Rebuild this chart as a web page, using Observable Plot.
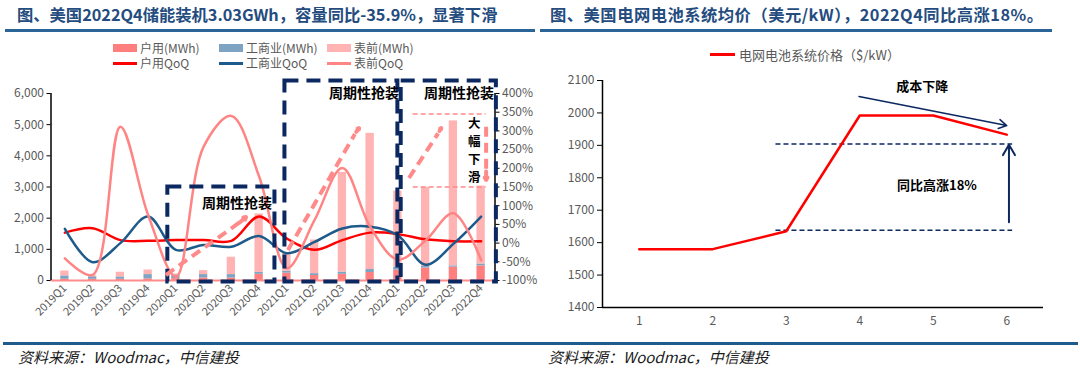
<!DOCTYPE html>
<html><head><meta charset="utf-8">
<script src="https://cdn.jsdelivr.net/npm/d3@7"></script>
<script src="https://cdn.jsdelivr.net/npm/@observablehq/plot@0.6"></script>
<style>
html,body{margin:0;padding:0;background:#fff;}
#root{position:relative;width:1080px;height:377px;overflow:hidden;font-family:"Noto Sans CJK SC","Noto Sans",sans-serif;}
.title{position:absolute;top:4px;font-size:16.3px;line-height:20px;font-weight:bold;color:#244c7e;white-space:nowrap;}
.rule{position:absolute;height:2.5px;background:#2b6497;}
.src{position:absolute;top:347px;font-size:15px;line-height:19px;font-style:italic;color:#1a1a1a;white-space:nowrap;}
.leg{position:absolute;font-size:12px;line-height:14px;color:#595959;white-space:nowrap;}
.sw{position:absolute;}
.chart{position:absolute;}
</style></head>
<body><div id="root">
<div class="title" style="left:17px">图、美国2022Q4储能装机3.03GWh，容量同比-35.9%，显著下滑</div>
<div class="title" style="left:550px;letter-spacing:0.5px">图、美国电网电池系统均价（美元/kW），2022Q4同比高涨18%。</div>
<div class="rule" style="left:5px;top:29px;width:530px"></div>
<div class="rule" style="left:540px;top:29px;width:512px"></div>
<div id="legL"></div>
<div id="legR"></div>
<div id="chartL" class="chart" style="left:0;top:75px"></div>
<div id="chartR" class="chart" style="left:540px;top:70px"></div>
<div class="rule" style="left:3px;top:342px;width:1075px;background:#1f5c8b"></div>
<div class="src" style="left:18px">资料来源：Woodmac，中信建投</div>
<div class="src" style="left:548px">资料来源：Woodmac，中信建投</div>
</div>
<script>
// ---------- Left chart data ----------
const catLabels = ["2019Q1","2019Q2","2019Q3","2019Q4","2020Q1","2020Q2","2020Q3","2020Q4",
                   "2021Q1","2021Q2","2021Q3","2021Q4","2022Q1","2022Q2","2022Q3","2022Q4"];
const resMWh = [40, 40, 40, 50, 60, 80, 80, 200, 235, 160, 200, 257, 330, 400, 430, 470];
const ciMWh  = [107, 80, 75, 140, 120, 110, 110, 60, 60, 60, 70, 95, 100, 50, 40, 60];
const fmMWh  = [158, 30, 150, 147, 30, 126, 557, 1875, 600, 1080, 3200, 4370, 2440, 2540, 4650, 2500];
const resQoQ = [28, 40, 8, 6, 8, 8, 6, 71, 12, -18, 8, 28, 24, 10, 5, 5];
const ciQoQ  = [38, -51, 0, 71, -18, -5, -10, 19, -27, 3, 39, 44, 21, -58, -2, 71];
const fmQoQ  = [-41, -85, 311, 75, -90, 258, 340, 178, -67, 62, 201, 44, -44, 7, 80, -46];
const barSeries = ["户用(MWh)", "工商业(MWh)", "表前(MWh)"];
const lineSeries = ["户用QoQ", "工商业QoQ", "表前QoQ"];
const leftTicks = [0, 1000, 2000, 3000, 4000, 5000, 6000];
const rightTicks = [-100, -50, 0, 50, 100, 150, 200, 250, 300, 350, 400];
const boxLabel = "周期性抢装";
const dropLabel = ["大", "幅", "下", "滑"];

// ---------- Right chart data ----------
const priceX = [1, 2, 3, 4, 5, 6];
const price  = [1580, 1580, 1635, 1992, 1992, 1933];
const priceTicks = [1400, 1500, 1600, 1700, 1800, 1900, 2000, 2100];
const priceSeries = "电网电池系统价格（$/kW）";

// ---------- styles ----------
const barColors = ["#ff7f7f", "#7fa3c2", "#ffb3b3"];
const lineColors = ["#ff0000", "#1e5a8a", "#ff8585"];
const navy = "#0b2860";
const salmon = "#ff8a8a";
const font = "'Noto Sans CJK SC','Noto Sans',sans-serif";

// QoQ (%) mapped onto left-axis units: -100% -> 0, 400% -> 6000
const qToLeft = q => (q + 100) * 12;
const idx = catLabels.map((_, i) => i);

const barData = [];
idx.forEach(i => {
  [resMWh, ciMWh, fmMWh].forEach((arr, s) => barData.push({i, s: barSeries[s], v: arr[i]}));
});

const lineData = [resQoQ, ciQoQ, fmQoQ];

// vertical label: one character per row, in data units on the left axis
const dropY = [5021, 4443, 3866, 3289];

const left = Plot.plot({
  width: 540, height: 265,
  marginLeft: 50.5, marginRight: 45.5, marginTop: 18, marginBottom: 60,
  x: {domain: [-0.5, 15.5]},
  y: {domain: [0, 6000]},
  color: {domain: barSeries, range: barColors},
  style: {fontFamily: font, fontSize: "12px", background: "transparent", overflow: "visible"},
  marks: [
    Plot.rectY(barData, {x1: d => d.i - 0.15, x2: d => d.i + 0.15, y: "v", fill: "s"}),
    Plot.ruleY([0], {stroke: "#ff8c8c", strokeWidth: 2}),
    ...lineData.map((arr, k) => Plot.line(idx, {
      x: i => i, y: i => qToLeft(arr[i]), curve: "catmull-rom",
      stroke: lineColors[k], strokeWidth: 2.5
    })),
    Plot.ruleX([-0.5], {y1: 0, y2: 6000, stroke: "black", strokeWidth: 1.5}),
    Plot.ruleX([15.5], {y1: 0, y2: 6000, stroke: "black", strokeWidth: 1.5}),
    Plot.axisY({anchor: "left", ticks: leftTicks, tickFormat: d3.format(","), tickSize: 4, tickPadding: 3,
      stroke: "black", fill: "#595959", fontSize: 12}),
    Plot.axisY({anchor: "right", ticks: rightTicks.map(qToLeft), tickFormat: d => `${Math.round(d / 12 - 100)}%`,
      tickSize: 4, tickPadding: 3, stroke: "black", fill: "#595959", fontSize: 12}),
    Plot.axisX({ticks: idx, tickFormat: i => catLabels[i], tickRotate: -45, tickSize: 0, tickPadding: 6,
      fill: "#595959", fontSize: 11}),
    // dashed boxes
    Plot.rect([
      {x1: 3.71, x2: 7.57, y1: -50, y2: 3000},
      {x1: 7.93, x2: 12.0, y1: -50, y2: 6400},
      {x1: 12.12, x2: 15.55, y1: -50, y2: 6400}
    ], {x1: "x1", x2: "x2", y1: "y1", y2: "y2", fill: "none", stroke: navy, strokeWidth: 4, strokeDasharray: "14,8"}),
    // dashed arrows (shaft)
    Plot.link([
      {x1: 3.64, y1: 176, x2: 6.4, y2: 1930},
      {x1: 8.04, y1: 978, x2: 10.45, y2: 4700},
      {x1: 12.4, y1: 3288, x2: 13.45, y2: 4720}
    ], {x1: "x1", y1: "y1", x2: "x2", y2: "y2", stroke: salmon, strokeWidth: 4, strokeDasharray: "10,6"}),
    // arrow heads
    Plot.arrow([
      {x1: 6.3, y1: 1860, x2: 6.53, y2: 2037},
      {x1: 10.5, y1: 4770, x2: 10.6, y2: 4893},
      {x1: 13.5, y1: 4800, x2: 13.56, y2: 4893}
    ], {x1: "x1", y1: "y1", x2: "x2", y2: "y2", stroke: salmon, strokeWidth: 4, headLength: 12}),
    // vertical drop arrow
    Plot.link([{x: 15.18, y1: 4934, y2: 3450}], {x1: "x", x2: "x", y1: "y1", y2: "y2", stroke: salmon, strokeWidth: 4, strokeDasharray: "10,6"}),
    Plot.arrow([{x: 15.18, y1: 3500, y2: 3224}], {x1: "x", x2: "x", y1: "y1", y2: "y2", stroke: salmon, strokeWidth: 4, headLength: 12}),
    Plot.ruleY([5342, 3000], {x1: 12.55, x2: 15.18, stroke: salmon, strokeWidth: 1.5, strokeDasharray: "5,3"}),
    // labels
    Plot.text([{x: 6.2, y: 2486}, {x: 10.78, y: 6000}, {x: 14.2, y: 6000}], {x: "x", y: "y", text: () => boxLabel,
      fontSize: 14, fill: "black", fontWeight: "bold"}),
    Plot.text(dropLabel, {x: () => 14.75, y: (d, i) => dropY[i], text: d => d, fontSize: 12.5,
      fill: "black", fontWeight: "bold"})
  ]
});
document.getElementById("chartL").appendChild(left);

// left legend
const legL = document.getElementById("legL");
const legX = [113, 219, 327];
barSeries.forEach((name, k) => {
  legL.insertAdjacentHTML("beforeend",
    `<div class="sw" style="left:${legX[k]}px;top:44px;width:24px;height:8px;background:${barColors[k]}"></div>
     <div class="leg" style="left:${legX[k] + 27}px;top:41px">${name}</div>`);
});
lineSeries.forEach((name, k) => {
  legL.insertAdjacentHTML("beforeend",
    `<div class="sw" style="left:${legX[k]}px;top:62px;width:24px;height:2.5px;background:${lineColors[k]}"></div>
     <div class="leg" style="left:${legX[k] + 27}px;top:56px">${name}</div>`);
});

// ---------- Right chart ----------
const right = Plot.plot({
  width: 540, height: 270,
  marginLeft: 62, marginRight: 37, marginTop: 10, marginBottom: 33,
  x: {domain: [0.5, 6.5]},
  y: {domain: [1400, 2100]},
  style: {fontFamily: font, fontSize: "12px", background: "transparent", overflow: "visible"},
  marks: [
    Plot.axisY({ticks: priceTicks, tickFormat: d => String(d), tickSize: 5, tickPadding: 3, stroke: "black", fill: "#595959", fontSize: 12}),
    Plot.axisX({ticks: priceX, tickFormat: d => String(d), tickSize: 0, tickPadding: 9, fill: "#595959", fontSize: 12}),
    Plot.ruleX([0.5], {y1: 1400, y2: 2100, stroke: "black", strokeWidth: 1.5}),
    Plot.ruleY([1400], {x1: 0.5, x2: 6.5, stroke: "black", strokeWidth: 1.5}),
    Plot.ruleY([1904, 1638], {x1: 2.86, x2: 6.08, stroke: navy, strokeWidth: 1.5, strokeDasharray: "5,3"}),
    Plot.line(priceX, {x: d => d, y: (d, i) => price[i], stroke: "#ff0000", strokeWidth: 2.5}),
    Plot.arrow([{x1: 6.03, y1: 1663, x2: 6.03, y2: 1902}], {x1: "x1", y1: "y1", x2: "x2", y2: "y2",
      stroke: navy, strokeWidth: 2, headLength: 9}),
    Plot.arrow([{x1: 3.99, y1: 2051, x2: 6.0, y2: 1961}], {x1: "x1", y1: "y1", x2: "x2", y2: "y2",
      stroke: navy, strokeWidth: 1.5, headLength: 9}),
    Plot.text([{x: 4.85, y: 2080, t: "成本下降"}, {x: 5.05, y: 1776, t: "同比高涨18%"}], {x: "x", y: "y", text: "t",
      fontSize: 13, fontWeight: "bold", fill: "black"})
  ]
});
document.getElementById("chartR").appendChild(right);

document.getElementById("legR").innerHTML =
  `<div class="sw" style="left:710px;top:53px;width:25px;height:3px;background:#ff0000"></div>
   <div class="leg" style="left:739px;top:47px;font-size:13px;line-height:16px">${priceSeries}</div>`;
</script>
</body></html>
